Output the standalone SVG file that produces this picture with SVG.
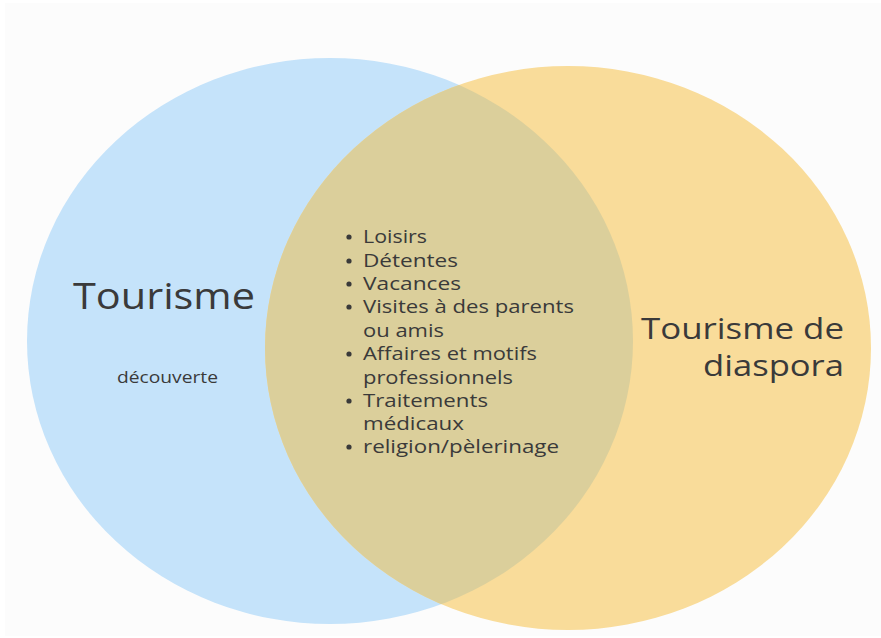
<svg xmlns="http://www.w3.org/2000/svg" width="881" height="638" viewBox="0 0 881 638">
<style>
.t{font-family:"Open Sans","Noto Sans","Liberation Sans",sans-serif;fill:#3a3a3a}
.li{font-size:18px}
</style>
<defs>
<clipPath id="clipL"><ellipse cx="330" cy="341" rx="303" ry="283"/></clipPath>
</defs>
<rect x="0" y="0" width="881" height="638" fill="#ffffff"/>
<rect x="5" y="3" width="876" height="633" fill="#fcfcfc"/>
<g id="set-tourisme">
<ellipse cx="330" cy="341" rx="303" ry="283" fill="#c5e3fa"/>
</g>
<g id="set-diaspora">
<ellipse cx="568" cy="348" rx="303" ry="282" fill="#f9dc9a"/>
</g>
<g id="overlap">
<ellipse cx="568" cy="348" rx="303" ry="282" fill="#dbcf9b" clip-path="url(#clipL)"/>
</g>
<g id="label-tourisme">
<text class="t" x="73" y="309" font-size="37" textLength="182" lengthAdjust="spacingAndGlyphs">Tourisme</text>
<text class="t" x="117" y="383" font-size="16" textLength="101" lengthAdjust="spacingAndGlyphs">découverte</text>
</g>
<g id="label-diaspora">
<text class="t" x="641" y="339" font-size="30" textLength="203" lengthAdjust="spacingAndGlyphs">Tourisme de</text>
<text class="t" x="703" y="376" font-size="30" textLength="141" lengthAdjust="spacingAndGlyphs">diaspora</text>
</g>
<g id="list" fill="#3a3a3a">
<circle cx="349" cy="237" r="2.6"/>
<circle cx="349" cy="261" r="2.6"/>
<circle cx="349" cy="284" r="2.6"/>
<circle cx="349" cy="307" r="2.6"/>
<circle cx="349" cy="354" r="2.6"/>
<circle cx="349" cy="401" r="2.6"/>
<circle cx="349" cy="447" r="2.6"/>
<text class="t li" x="363" y="243" textLength="64" lengthAdjust="spacingAndGlyphs">Loisirs</text>
<text class="t li" x="363" y="267" textLength="95" lengthAdjust="spacingAndGlyphs">Détentes</text>
<text class="t li" x="363" y="290" textLength="98" lengthAdjust="spacingAndGlyphs">Vacances</text>
<text class="t li" x="363" y="313" textLength="211" lengthAdjust="spacingAndGlyphs">Visites à des parents</text>
<text class="t li" x="363" y="337" textLength="81" lengthAdjust="spacingAndGlyphs">ou amis</text>
<text class="t li" x="363" y="360" textLength="174" lengthAdjust="spacingAndGlyphs">Affaires et motifs</text>
<text class="t li" x="363" y="384" textLength="150" lengthAdjust="spacingAndGlyphs">professionnels</text>
<text class="t li" x="363" y="407" textLength="125" lengthAdjust="spacingAndGlyphs">Traitements</text>
<text class="t li" x="363" y="430" textLength="101" lengthAdjust="spacingAndGlyphs">médicaux</text>
<text class="t li" x="363" y="453" textLength="196" lengthAdjust="spacingAndGlyphs">religion/pèlerinage</text>
</g>
</svg>
